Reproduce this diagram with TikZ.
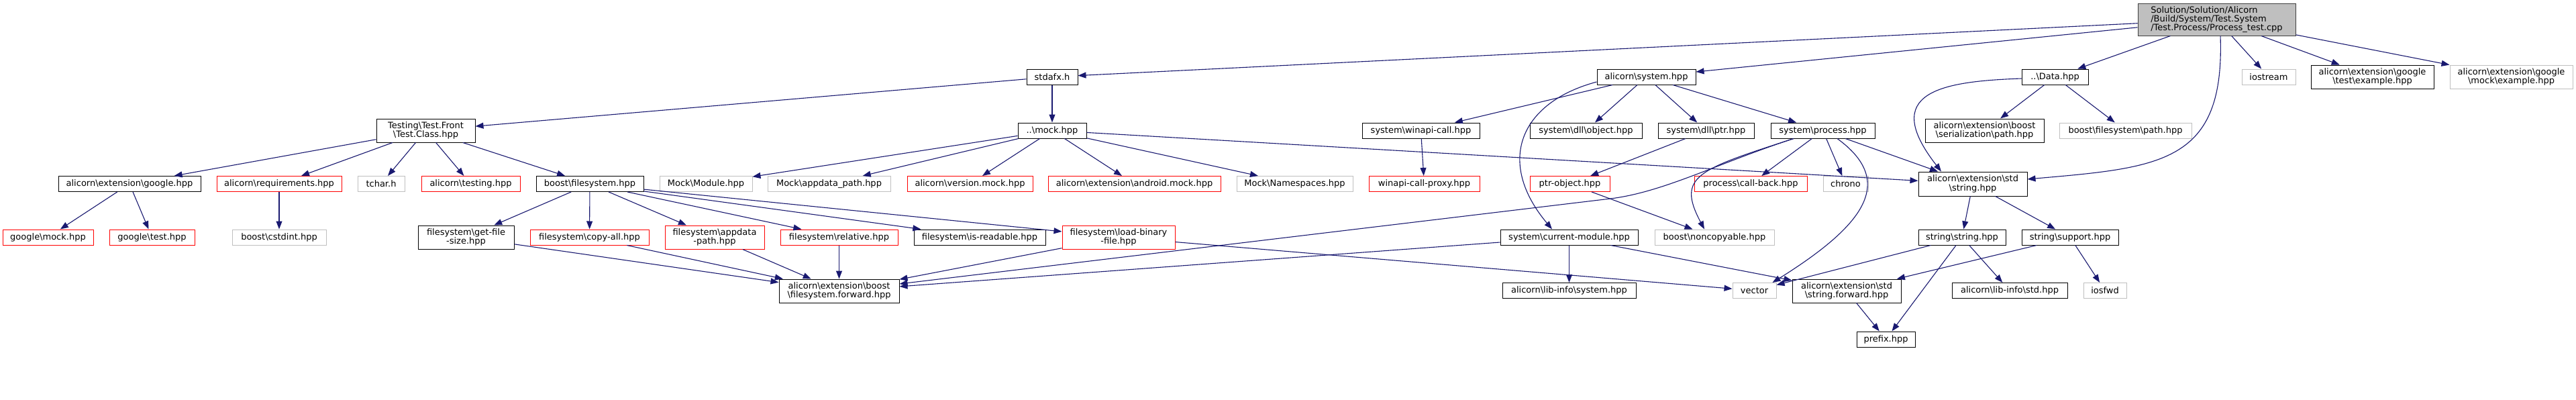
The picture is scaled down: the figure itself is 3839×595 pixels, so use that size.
\documentclass[tikz,border=0pt]{standalone}
\usepackage{fontspec}
\setmainfont{DejaVu Sans}
\usetikzlibrary{arrows.meta}
\definecolor{edgec}{HTML}{191970}
\definecolor{grayb}{HTML}{BFBFBF}
\definecolor{mainfill}{HTML}{BFBFBF}
\definecolor{mainborder}{HTML}{404040}
\definecolor{redb}{HTML}{FF0000}
\newcommand{\bsl}{\textbackslash}
\begin{document}
\begin{tikzpicture}[x=1pt,y=1pt,
  every node/.style={font=\fontsize{13}{13.3}\selectfont, inner sep=0pt, align=center},
  nb/.style={draw=black, line width=1pt, minimum height=23pt},
  nr/.style={draw=redb, line width=1pt, minimum height=23pt},
  ng/.style={draw=grayb, line width=1pt, minimum height=23pt},
  tall/.style={minimum height=35pt},
  mainbox/.style={draw=mainborder, fill=mainfill, line width=1pt, minimum width=235pt, minimum height=48pt, align=left},
  e/.style={draw=edgec, line width=1.1pt, -{Triangle[length=12pt,width=9pt]}},
  ep/.style={draw=edgec, line width=1.1pt}
]
\useasboundingbox (0,0) rectangle (3839,-595);

% row 0
\node[mainbox] (main) at (3303.5,-29) {Solution/Solution/Alicorn\\/Build/System/Test.System\\/Test.Process/Process\_test.cpp};
% row 1
\node[nb, minimum width=76pt] (stdafx) at (1568,-114.5) {stdafx.h};
\node[nb, minimum width=147pt] (system) at (2453.5,-114.5) {alicorn\bsl system.hpp};
\node[nb, minimum width=99pt] (data) at (3062.5,-114.5) {..\bsl Data.hpp};
\node[ng, minimum width=80pt] (iostream) at (3381,-114.5) {iostream};
\node[nb, tall, minimum width=183pt] (gtestex) at (3535.5,-114.5) {alicorn\bsl extension\bsl google\\\bsl test\bsl example.hpp};
\node[ng, tall, minimum width=183pt] (gmockex) at (3742.5,-114.5) {alicorn\bsl extension\bsl google\\\bsl mock\bsl example.hpp};
% row 2
\node[nb, tall, minimum width=147pt] (testclass) at (634.5,-194.5) {Testing\bsl Test.Front\\\bsl Test.Class.hpp};
\node[nb, minimum width=102pt] (mock) at (1568,-194.5) {..\bsl mock.hpp};
\node[nb, minimum width=175pt] (winapicall) at (2117.5,-194.5) {system\bsl winapi-call.hpp};
\node[nb, minimum width=167pt] (dllobject) at (2363.5,-194.5) {system\bsl dll\bsl object.hpp};
\node[nb, minimum width=143pt] (dllptr) at (2542.5,-194.5) {system\bsl dll\bsl ptr.hpp};
\node[nb, minimum width=155pt] (process) at (2716.5,-194.5) {system\bsl process.hpp};
\node[nb, tall, minimum width=177pt] (serpath) at (2957.5,-194.5) {alicorn\bsl extension\bsl boost\\\bsl serialization\bsl path.hpp};
\node[ng, minimum width=197pt] (bfspath) at (3167.5,-194.5) {boost\bsl filesystem\bsl path.hpp};
% row 3
\node[nb, minimum width=212pt] (googlehpp) at (193,-274) {alicorn\bsl extension\bsl google.hpp};
\node[nr, minimum width=186pt] (requirements) at (416,-274) {alicorn\bsl requirements.hpp};
\node[ng, minimum width=70pt] (tchar) at (568,-274) {tchar.h};
\node[nr, minimum width=147pt] (testing) at (701.5,-274) {alicorn\bsl testing.hpp};
\node[nb, minimum width=160pt] (boostfs) at (879,-274) {boost\bsl filesystem.hpp};
\node[ng, minimum width=138pt] (mockmodule) at (1052,-274) {Mock\bsl Module.hpp};
\node[ng, minimum width=183pt] (mockappdata) at (1235.5,-274) {Mock\bsl appdata\_path.hpp};
\node[nr, minimum width=187pt] (versionmock) at (1445.5,-274) {alicorn\bsl version.mock.hpp};
\node[nr, minimum width=257pt] (androidmock) at (1690.5,-274) {alicorn\bsl extension\bsl android.mock.hpp};
\node[ng, minimum width=173pt] (namespaces) at (1929.5,-274) {Mock\bsl Namespaces.hpp};
\node[nr, minimum width=165pt] (proxy) at (2122.5,-274) {winapi-call-proxy.hpp};
\node[nr, minimum width=119pt] (ptrobject) at (2339.5,-274) {ptr-object.hpp};
\node[nr, minimum width=168pt] (callback) at (2609,-274) {process\bsl call-back.hpp};
\node[ng, minimum width=67pt] (chrono) at (2750.5,-274) {chrono};
\node[nb, minimum width=162pt, minimum height=36pt] (stringhpp) at (2940,-274) {alicorn\bsl extension\bsl std\\\bsl string.hpp};
% row 4
\node[nr, minimum width=135pt] (googlemock) at (71.5,-353.5) {google\bsl mock.hpp};
\node[nr, minimum width=127pt] (googletest) at (226.5,-353.5) {google\bsl test.hpp};
\node[ng, minimum width=140pt] (cstdint) at (416,-353.5) {boost\bsl cstdint.hpp};
\node[nb, tall, minimum width=143pt] (getfilesize) at (694.5,-353.5) {filesystem\bsl get-file\\-size.hpp};
\node[nr, minimum width=177pt] (copyall) at (878.5,-353.5) {filesystem\bsl copy-all.hpp};
\node[nr, tall, minimum width=148pt] (appdatapath) at (1065,-353.5) {filesystem\bsl appdata\\-path.hpp};
\node[nr, minimum width=175pt] (relative) at (1250.5,-353.5) {filesystem\bsl relative.hpp};
\node[nb, minimum width=196pt] (isreadable) at (1460,-353.5) {filesystem\bsl is-readable.hpp};
\node[nr, tall, minimum width=168pt] (loadbinary) at (1667,-353.5) {filesystem\bsl load-binary\\-file.hpp};
\node[nb, minimum width=205pt] (currentmodule) at (2338.5,-353.5) {system\bsl current-module.hpp};
\node[ng, minimum width=178pt] (noncopyable) at (2555,-353.5) {boost\bsl noncopyable.hpp};
\node[nb, minimum width=130pt] (stringstring) at (2924,-353.5) {string\bsl string.hpp};
\node[nb, minimum width=144pt] (support) at (3085,-353.5) {string\bsl support.hpp};
% row 5
\node[nb, tall, minimum width=179pt] (forward) at (1250.5,-433.5) {alicorn\bsl extension\bsl boost\\\bsl filesystem.forward.hpp};
\node[nb, minimum width=199pt] (libsystem) at (2338.5,-433) {alicorn\bsl lib-info\bsl system.hpp};
\node[ng, minimum width=65pt] (vector) at (2614.5,-433) {vector};
\node[nb, tall, minimum width=162pt] (stringforward) at (2752,-433.5) {alicorn\bsl extension\bsl std\\\bsl string.forward.hpp};
\node[nb, minimum width=172pt] (libstd) at (2995,-433) {alicorn\bsl lib-info\bsl std.hpp};
\node[ng, minimum width=64pt] (iosfwd) at (3137,-433) {iosfwd};
% row 6
\node[nb, minimum width=87pt] (prefix) at (2810.5,-505.5) {prefix.hpp};

\coordinate (pfk) at (2400,-296);

% edges from main
\draw[e] (main) -- (stdafx);
\draw[e] (main) -- (system);
\draw[e] (main) -- (data);
\draw[e] (main) -- (iostream);
\draw[e] (main) -- (gtestex);
\draw[e] (main) -- (gmockex);
\draw[e] ([xshift=5.5pt]main.south) to[out=-88,in=5,out distance=190pt,in distance=200pt] ([yshift=7pt]stringhpp.east);
% stdafx
\draw[e] (stdafx) -- (testclass);
\draw[e] (stdafx) -- (mock);
% testclass
\draw[e] (testclass) -- (googlehpp);
\draw[e] (testclass) -- (requirements);
\draw[e] (testclass) -- (tchar);
\draw[e] (testclass) -- (testing);
\draw[e] (testclass) -- (boostfs);
\draw[e] (googlehpp) -- (googlemock);
\draw[e] (googlehpp) -- (googletest);
\draw[e] (requirements) -- (cstdint);
% boost filesystem
\draw[e] (boostfs) -- (getfilesize);
\draw[e] (boostfs) -- (copyall);
\draw[e] (boostfs) -- (appdatapath);
\draw[e] (boostfs) -- (relative);
\draw[e] (boostfs) -- (isreadable);
\draw[e] (boostfs) -- (loadbinary);
\draw[e] (getfilesize) -- (forward);
\draw[e] (copyall) -- (forward);
\draw[e] (appdatapath) -- (forward);
\draw[e] (relative) -- (forward);
\draw[e] (loadbinary) -- (forward);
\draw[e] (loadbinary) -- (vector);
% mock
\draw[e] (mock) -- (mockmodule);
\draw[e] (mock) -- (mockappdata);
\draw[e] (mock) -- (versionmock);
\draw[e] (mock) -- (androidmock);
\draw[e] (mock) -- (namespaces);
\draw[e] (mock) -- (stringhpp);
% system
\draw[e] (system) -- (winapicall);
\draw[e] (system) -- (dllobject);
\draw[e] (system) -- (dllptr);
\draw[e] (system) -- (process);
\draw[e] ([yshift=-7.5pt]system.west) to[out=195,in=130,out distance=120pt,in distance=130pt] ([xshift=-25.5pt]currentmodule.north);
\draw[e] (winapicall) -- (proxy);
\draw[e] (dllptr) -- (ptrobject);
\draw[e] (ptrobject) -- (noncopyable);
% process
\draw[e] (process) -- (callback);
\draw[e] (process) -- (chrono);
\draw[e] (process) -- (stringhpp);
\draw[e] ([xshift=-43.5pt]process.south) to[out=198,in=118,out distance=150pt,in distance=90pt] ([xshift=-15pt]noncopyable.north);
\draw[e] ([xshift=21.5pt]process.south) to[out=-36,in=32,out distance=110pt,in distance=160pt] ([xshift=27pt]vector.north);
\draw[ep] ([xshift=-43.5pt]process.south) to[out=198,in=7,out distance=120pt,in distance=80pt] (pfk);
\draw[e] (pfk) -- ([yshift=10.5pt]forward.east);
% current module
\draw[e] (currentmodule) -- (libsystem);
\draw[e] (currentmodule) -- (stringforward);
\draw[e] (currentmodule) -- (forward);
% data
\draw[e] (data) -- (serpath);
\draw[e] (data) -- (bfspath);
\draw[e] ([yshift=-2.5pt]data.west) to[out=182,in=128,out distance=120pt,in distance=150pt] ([xshift=-47pt]stringhpp.north);
% string
\draw[e] (stringhpp) -- (stringstring);
\draw[e] (stringhpp) -- (support);
\draw[e] (stringstring) -- (libstd);
\draw[e] (stringstring) -- (prefix);
\draw[e] (stringstring) -- (vector);
\draw[e] (support) -- (stringforward);
\draw[e] (support) -- (iosfwd);
\draw[e] (stringforward) -- (prefix);
\end{tikzpicture}
\end{document}
